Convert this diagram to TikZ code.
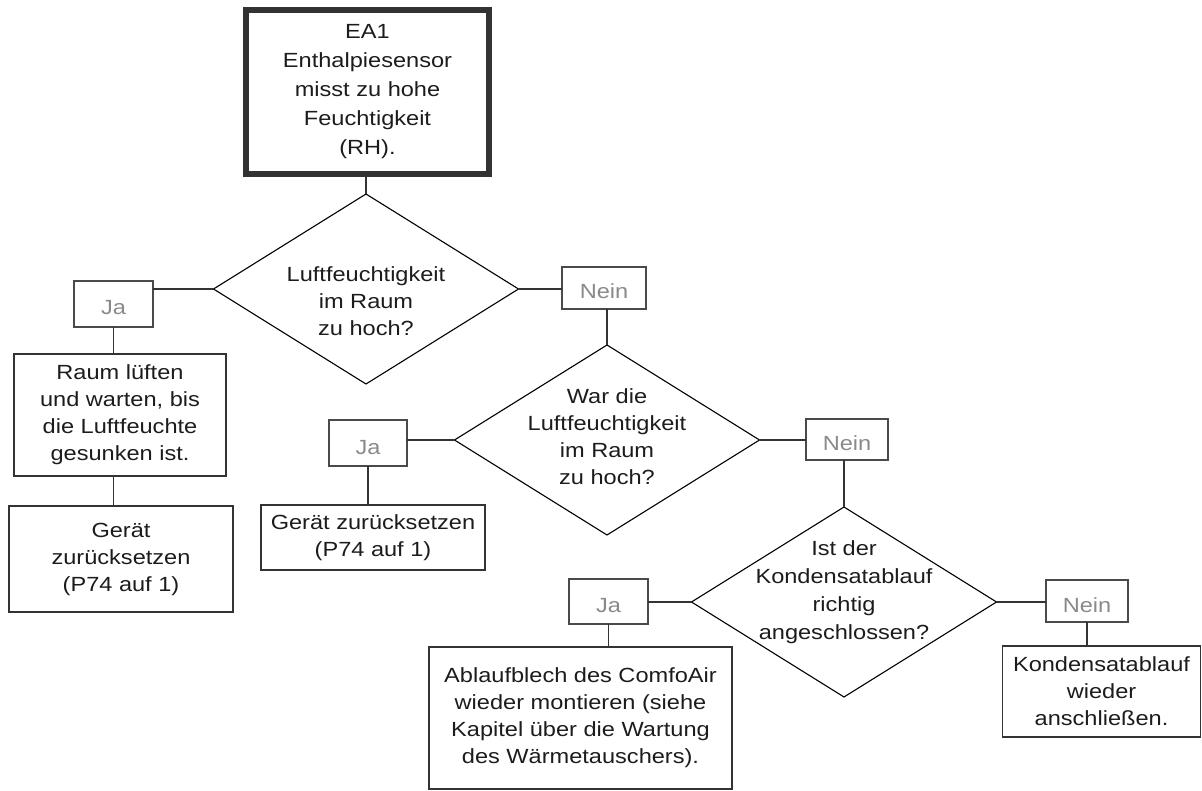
\documentclass[tikz,border=0pt]{standalone}
\usepackage{fontspec}
\setmainfont[FakeStretch=1.15]{Liberation Sans}
\usepackage{tikz}
\usetikzlibrary{shapes.geometric}
\definecolor{ECText}{HTML}{1C1C1C}
\definecolor{ECLine}{HTML}{333333}
\definecolor{ECFrame}{HTML}{4A4A4A}
\definecolor{ECGrey}{HTML}{8A8A8A}

\begin{document}
\begin{tikzpicture}[x=1pt,y=-1pt,
  every node/.style={font=\fontsize{20.5}{27}\selectfont,text=ECText,inner sep=0pt,outer sep=0pt},
  startbox/.style={draw=ECLine,line width=6pt,minimum width=243pt,minimum height=164pt,align=center,font=\fontsize{20.5}{29}\selectfont},
  actbox/.style={draw=ECLine,line width=1.2pt,align=center},
  answer/.style={draw=ECFrame,line width=1.2pt,text=ECGrey,text height=22pt,text depth=0pt},
  query/.style={diamond,draw=black,line width=1.1pt,minimum width=305pt,minimum height=190pt},
  querytext/.style={align=center},
  wire/.style={draw=ECLine,line width=1.2pt}]
\path[use as bounding box] (0,0) rectangle (1202,791);
\node[startbox] (start) at (367.5,92) {EA1\\Enthalpiesensor\\misst zu hohe\\Feuchtigkeit\\(RH).};
\node[query] (q1) at (366,289) {};
\node[querytext] (q1text) at (366,301) {Luftfeuchtigkeit\\im Raum\\zu hoch?};
\node[answer,minimum width=79pt,minimum height=46pt] (ja1) at (113.5,304) {Ja\hspace{12pt}};
\node[answer,minimum width=84pt,minimum height=42pt] (nein1) at (604,288) {Nein\hspace{18pt}};
\node[actbox,minimum width=212pt,minimum height=122pt] (raum) at (120,415) {Raum lüften\\und warten, bis\\die Luftfeuchte\\gesunken ist.};
\node[actbox,minimum width=224pt,minimum height=106pt] (ger1) at (121,559) {Gerät\\zurücksetzen\\(P74 auf 1)};
\node[query] (q2) at (607,440) {};
\node[querytext] (q2text) at (607,437) {War die\\Luftfeuchtigkeit\\im Raum\\zu hoch?};
\node[answer,minimum width=78pt,minimum height=46pt] (ja2) at (368,443) {Ja\hspace{12pt}};
\node[answer,minimum width=82pt,minimum height=41pt] (nein2) at (847,439.5) {Nein\hspace{18pt}};
\node[actbox,minimum width=224pt,minimum height=65pt] (ger2) at (373,537.5) {Gerät zurücksetzen\\(P74 auf 1)};
\node[query] (q3) at (844,602) {};
\node[querytext,font=\fontsize{20.5}{28}\selectfont] (q3text) at (844,592) {Ist der\\Kondensatablauf\\richtig\\angeschlossen?};
\node[answer,minimum width=79pt,minimum height=45pt] (ja3) at (608.5,601.5) {Ja\hspace{12pt}};
\node[answer,minimum width=82pt,minimum height=42pt] (nein3) at (1087,601) {Nein\hspace{18pt}};
\node[actbox,minimum width=303pt,minimum height=142pt] (abl) at (580.5,718) {Ablaufblech des ComfoAir\\wieder montieren (siehe\\Kapitel über die Wartung\\des Wärmetauschers).};
\node[actbox,minimum width=198pt,minimum height=91pt] (kond) at (1101.5,691.5) {Kondensatablauf\\wieder\\anschließen.};
\draw[wire] (q1.north) -- (q1.north |- start.south);
\draw[wire] (q1.west) -- (q1.west -| ja1.east);
\draw[wire] (ja1.south) -- (ja1.south |- raum.north);
\draw[wire] (raum.south -| ja1.south) -- (ger1.north -| ja1.south);
\draw[wire] (q1.east) -- (q1.east -| nein1.west);
\draw[wire] (q2.north) -- (q2.north |- nein1.south);
\draw[wire] (q2.west) -- (q2.west -| ja2.east);
\draw[wire] (ja2.south) -- (ja2.south |- ger2.north);
\draw[wire] (q2.east) -- (q2.east -| nein2.west);
\draw[wire] (q3.north) -- (q3.north |- nein2.south);
\draw[wire] (q3.west) -- (q3.west -| ja3.east);
\draw[wire] (ja3.south) -- (ja3.south |- abl.north);
\draw[wire] (q3.east) -- (q3.east -| nein3.west);
\draw[wire] (nein3.south) -- (nein3.south |- kond.north);
\end{tikzpicture}
\end{document}
